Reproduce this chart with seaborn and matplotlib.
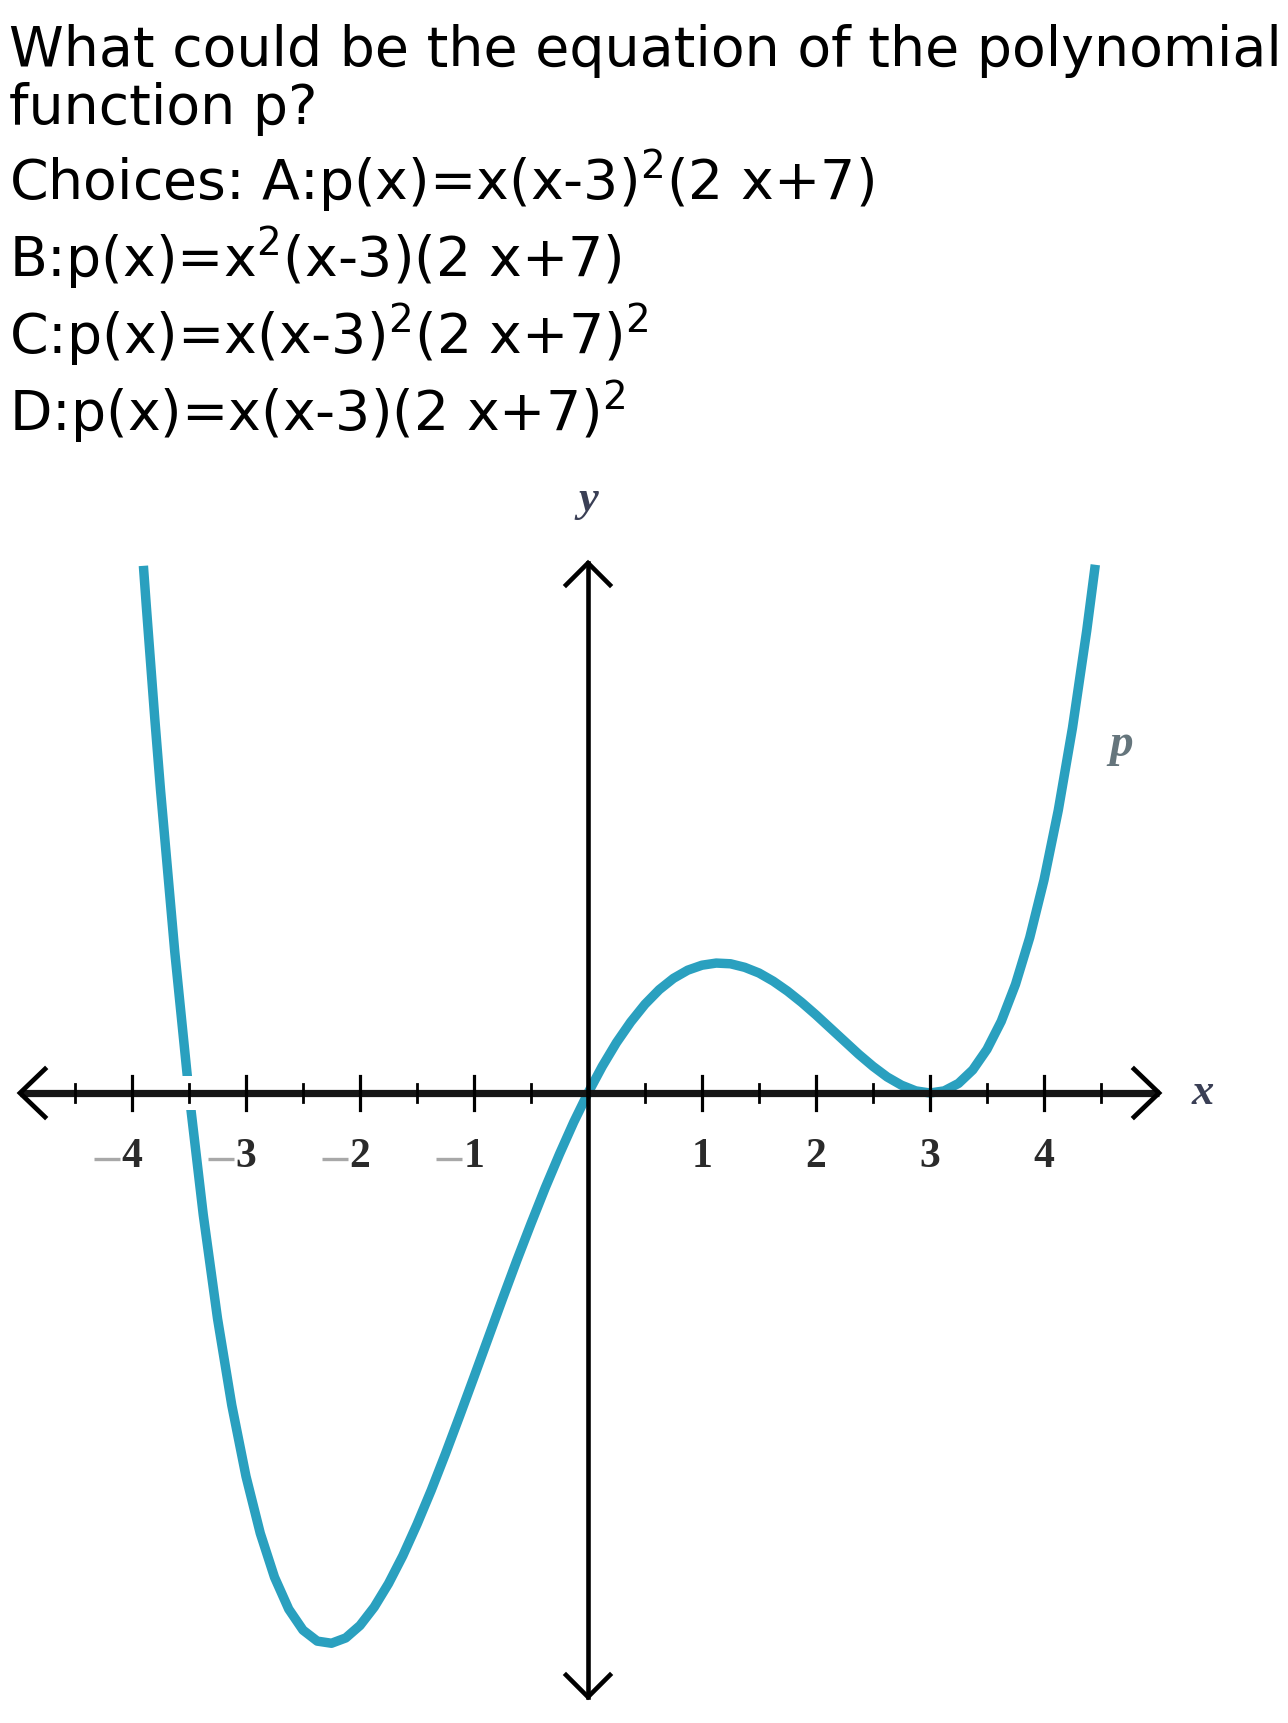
import matplotlib
matplotlib.use("Agg")
import matplotlib.pyplot as plt
import seaborn as sns
import pandas as pd

# ---- data ----
question_lines = [
    "What could be the equation of the polynomial",
    "function p?",
    "Choices: A:p(x)=x(x-3)$^2$(2 x+7)",
    "B:p(x)=x$^2$(x-3)(2 x+7)",
    "C:p(x)=x(x-3)$^2$(2 x+7)$^2$",
    "D:p(x)=x(x-3)(2 x+7)$^2$",
]
curve_x = [-3.9, -3.875, -3.8, -3.75, -3.625, -3.5, -3.375, -3.25, -3.125, -3.0,
           -2.875, -2.75, -2.625, -2.5, -2.375, -2.25, -2.125, -2.0, -1.875, -1.75,
           -1.625, -1.5, -1.375, -1.25, -1.125, -1.0, -0.875, -0.75, -0.625, -0.5,
           -0.375, -0.25, -0.125, 0.0, 0.125, 0.25, 0.375, 0.5, 0.625, 0.75,
           0.875, 1.0, 1.125, 1.25, 1.375, 1.5, 1.625, 1.75, 1.875, 2.0,
           2.125, 2.25, 2.375, 2.5, 2.625, 2.75, 2.875, 3.0, 3.125, 3.25,
           3.375, 3.5, 3.625, 3.75, 3.875, 4.0, 4.125, 4.25, 4.375, 4.45]
curve_y = [148.5, 137.4, 105.4, 85.4, 39.8, 0.0, -34.3, -63.5, -87.9, -108.0,
           -124.0, -136.4, -145.4, -151.3, -154.4, -155.0, -153.5, -150.0, -144.8, -138.2,
           -130.4, -121.5, -111.9, -101.6, -90.9, -80.0, -69.0, -58.0, -47.2, -36.8,
           -26.7, -17.2, -8.2, 0.0, 7.5, 14.2, 20.0, 25.0, 29.1, 32.3,
           34.6, 36.0, 36.6, 36.4, 35.4, 33.8, 31.5, 28.7, 25.5, 22.0,
           18.3, 14.6, 10.9, 7.5, 4.5, 2.2, 0.6, 0.0, 0.6, 2.7,
           6.5, 12.3, 20.2, 30.6, 43.8, 60.0, 79.6, 102.9, 130.3, 148.8]
major_ticks = [-4, -3, -2, -1, 1, 2, 3, 4]
minor_ticks = [-4.5, -3.5, -2.5, -1.5, -0.5, 0.5, 1.5, 2.5, 3.5, 4.5]
tick_labels = ["4", "3", "2", "1", "1", "2", "3", "4"]

# ---- layout (pixels of the 1288x1723 canvas) ----
W, H = 1288, 1723
ox, oy = 588, 1093        # origin pixel
ux, uy = 114.0, 3.55      # pixels per x unit, per y unit
CURVE = "#2aa0bf"
AXC = "#161616"

fig = plt.figure(figsize=(W / 100, H / 100), dpi=100)
fig.patch.set_facecolor("white")
ax = fig.add_axes([0, 0, 1, 1])
ax.set_xlim((0 - ox) / ux, (W - ox) / ux)
ax.set_ylim((oy - H) / uy, oy / uy)
ax.axis("off")

def px(xp):
    return (xp - ox) / ux

def py(yp):
    return (oy - yp) / uy

# question text
baselines = [66, 124, 200, 277, 354, 431]
for line, b in zip(question_lines, baselines):
    fig.text(9 / W, 1 - b / H, line, fontsize=39.9, family="DejaVu Sans",
             va="baseline", ha="left", color="black")

# curve
df = pd.DataFrame({"x": curve_x, "y": curve_y})
sns.lineplot(data=df, x="x", y="y", ax=ax, color=CURVE, linewidth=6.8,
             estimator=None, sort=False, solid_capstyle="butt",
             solid_joinstyle="round", zorder=2)
ax.set_xlabel("")
ax.set_ylabel("")

# white gap where the curve crosses the axis at x=-3.5
ax.add_patch(plt.Rectangle((-3.5 - 10 / ux, -17 / uy), 20 / ux, 34 / uy,
                           facecolor="white", edgecolor="none", zorder=3))

# x axis
xl, xr = px(20), px(1159)
ax.plot([xl, xr], [0, 0], color=AXC, lw=5.2, zorder=4, solid_capstyle="butt")
for tipx, sgn in [(xl, 1), (xr, -1)]:
    ax.plot([tipx + sgn * 25 / ux, tipx, tipx + sgn * 25 / ux],
            [24 / uy, 0, -24 / uy], color="black", lw=3.4, zorder=5,
            solid_joinstyle="miter")
# y axis
yt, yb = py(563), py(1697)
ax.plot([0, 0], [yb, yt], color="black", lw=3.3, zorder=4)
for tipy, sgn in [(yt, -1), (yb, 1)]:
    ax.plot([-22 / ux, 0, 22 / ux], [tipy + sgn * 22 / uy, tipy, tipy + sgn * 22 / uy],
            color="black", lw=3.3, zorder=5, solid_joinstyle="miter")

# ticks
for t in major_ticks:
    ax.plot([t, t], [-17 / uy, 17 / uy], color="black", lw=2.3, zorder=5)
for t in minor_ticks:
    ax.plot([t, t], [-9 / uy, 9 / uy], color="black", lw=2.0, zorder=5)

# tick labels
for t, lab in zip(major_ticks, tick_labels):
    ax.text(t, py(1157), lab, fontsize=30, family="Liberation Serif",
            fontweight="bold", ha="center", va="center", color="#2a2a2a", zorder=6)
    if t < 0:
        ax.plot([t - 38 / ux, t - 12 / ux], [py(1159), py(1159)], color="#a8a8a8",
                lw=2.4, zorder=6, solid_capstyle="butt")

# axis names and function label
ax.text(px(1203), py(1093), "x", fontsize=32, family="Liberation Serif",
        style="italic", fontweight="bold", ha="center", va="center",
        color="#3a3f55", zorder=6)
ax.text(px(588), py(500), "y", fontsize=32, family="Liberation Serif",
        style="italic", fontweight="bold", ha="center", va="center",
        color="#3a3f55", zorder=6)
ax.text(px(1121), py(745), "p", fontsize=34, family="Liberation Serif",
        style="italic", fontweight="bold", ha="center", va="center",
        color="#65757c", zorder=6)

fig.savefig("out.png", dpi=100, facecolor="white")
